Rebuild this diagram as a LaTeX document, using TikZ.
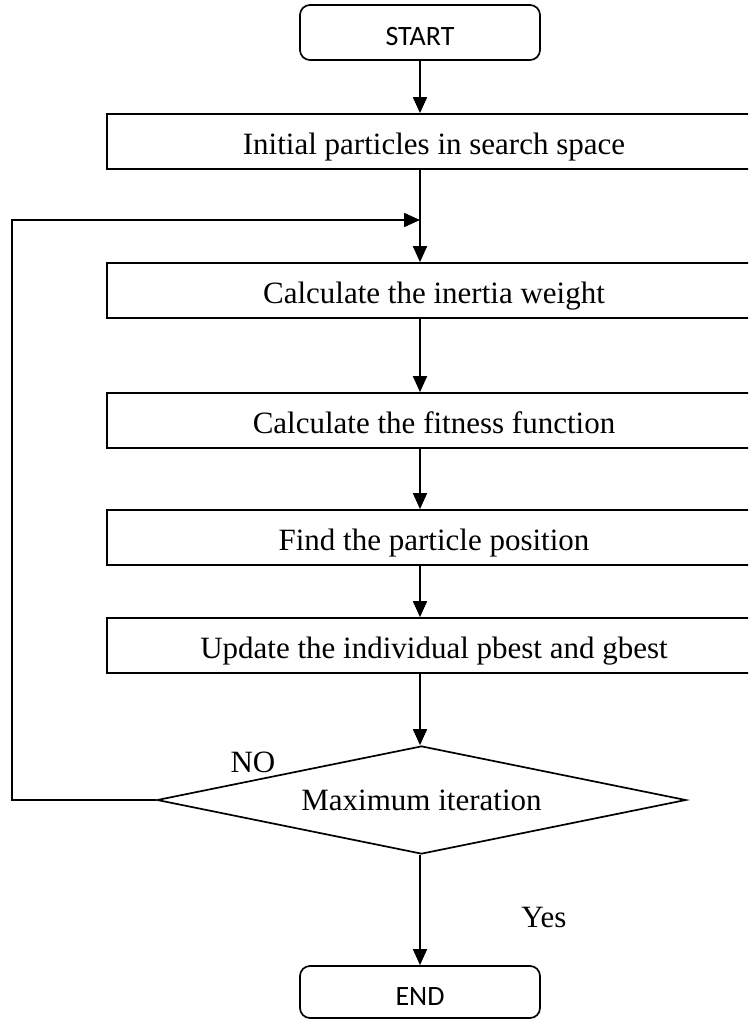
\documentclass[tikz,border=0pt]{standalone}
\usepackage{fontspec}
\setmainfont{Liberation Serif}
\newfontfamily\calib{Carlito}
\usetikzlibrary{arrows.meta,shapes.geometric}
\begin{document}
\begin{tikzpicture}[x=1pt,y=-1pt,
  line width=1.7pt,
  arr/.style={-{Triangle[length=16pt,width=14pt]}},
  term/.style={draw,rounded corners=10pt,minimum width=240pt,inner sep=0pt,text height=26pt,text depth=0pt,font=\calib\fontsize{28}{32}\selectfont},
  proc/.style={draw,minimum width=654pt,minimum height=55pt,inner sep=0pt,text height=25pt,text depth=0pt,font=\fontsize{31}{36}\selectfont},
  decis/.style={draw,shape=diamond,aspect=4.9,minimum width=529pt,minimum height=108pt,inner sep=0pt,font=\fontsize{31}{36}\selectfont},
  lbl/.style={inner sep=0pt,font=\fontsize{31}{36}\selectfont}]
\useasboundingbox (0,0) rectangle (748,1020);
\clip (0,0) rectangle (748,1020);
\node[term,minimum height=55pt] (start) at (420,32.5) {START};
\node[proc] (init) at (434,141.5) {Initial particles in search space};
\node[proc] (inertia) at (434,290.5) {Calculate the inertia weight};
\node[proc] (fit) at (434,420.5) {Calculate the fitness function};
\node[proc] (find) at (434,537.5) {Find the particle position};
\node[proc] (upd) at (434,645.5) {Update the individual pbest and gbest};
\node[decis] (dia) at (421.5,800) {Maximum iteration};
\node[term,minimum height=52pt] (end) at (420,992) {END};
\node[lbl] (no) at (253,762) {NO};
\node[lbl] (yes) at (544,917) {Yes};
\coordinate (join) at (420,220);
\coordinate (corner) at (12,800);
\draw[arr] (start.south) -- (start.south |- init.north);
\draw[arr] (start.south |- init.south) -- (start.south |- inertia.north);
\draw[arr] (dia.west) -- (corner) |- (join);
\draw[arr] (start.south |- inertia.south) -- (start.south |- fit.north);
\draw[arr] (start.south |- fit.south) -- (start.south |- find.north);
\draw[arr] (start.south |- find.south) -- (start.south |- upd.north);
\draw[arr] (start.south |- upd.south) -- (start.south |- dia.north);
\draw[arr] (start.south |- dia.south) -- (end.north);
\end{tikzpicture}
\end{document}
